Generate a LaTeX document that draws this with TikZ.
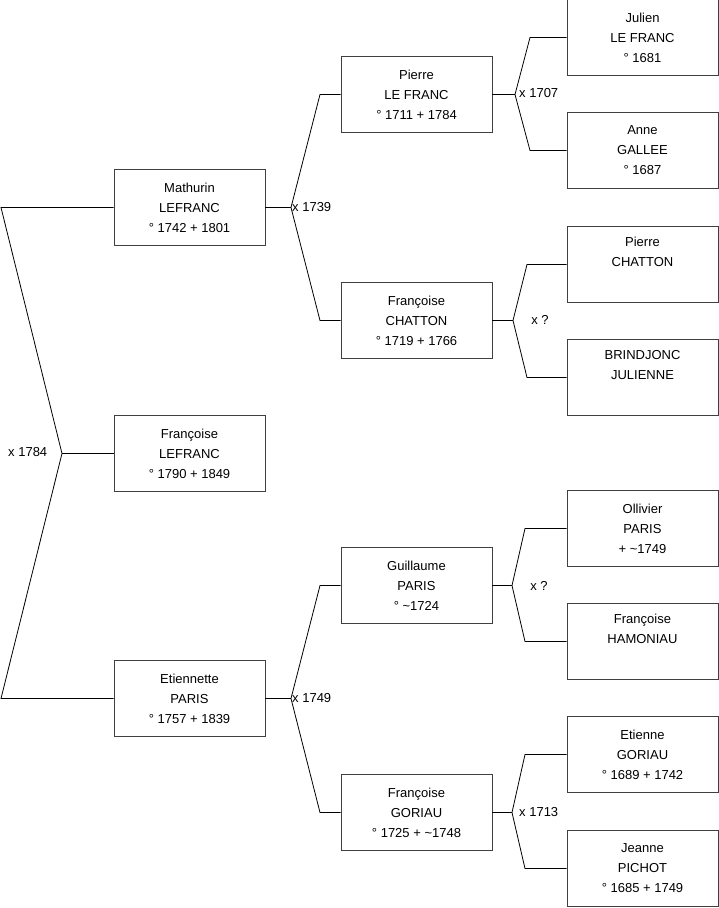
\documentclass[tikz,border=0pt]{standalone}
\usepackage{fontspec}
\setmainfont{Liberation Sans}
\begin{document}
\begin{tikzpicture}[x=1pt,y=-1pt,
  person/.style={draw=black!75,line width=0.9pt,minimum width=151pt,minimum height=76pt,
    inner sep=0pt,align=center,font=\fontsize{13}{20}\selectfont},
  lbl/.style={inner sep=0pt,font=\fontsize{13}{15}\selectfont},
  conn/.style={draw=black,line width=0.8pt}]
\fill[white] (0,0) rectangle (719,908);
\useasboundingbox (0,0) rectangle (719,908);
% generation 1
\node[person] (m) at (189.5,207.5) {Mathurin\\LEFRANC\\° 1742 + 1801};
\node[person] (f) at (189.5,453.5) {Françoise\\LEFRANC\\° 1790 + 1849};
\node[person] (e) at (189.5,698.5) {Etiennette\\PARIS\\° 1757 + 1839};
% generation 2
\node[person] (p) at (416.5,94.5) {Pierre\\LE FRANC\\° 1711 + 1784};
\node[person] (fc) at (416.5,320.5) {Françoise\\CHATTON\\° 1719 + 1766};
\node[person] (g) at (416.5,585.5) {Guillaume\\PARIS\\° \textasciitilde1724};
\node[person] (fg) at (416.5,812.5) {Françoise\\GORIAU\\° 1725 + \textasciitilde1748};
% generation 3
\node[person] (j) at (642.5,37.5) {Julien\\LE FRANC\\° 1681};
\node[person] (a) at (642.5,150.5) {Anne\\GALLEE\\° 1687};
\node[person] (pc) at (642.5,264.5) {Pierre\\CHATTON\\\strut};
\node[person] (b) at (642.5,377.5) {BRINDJONC\\JULIENNE\\\strut};
\node[person] (o) at (642.5,528.5) {Ollivier\\PARIS\\+ \textasciitilde1749};
\node[person] (h) at (642.5,641.5) {Françoise\\HAMONIAU\\\strut};
\node[person] (et) at (642.5,754.5) {Etienne\\GORIAU\\° 1689 + 1742};
\node[person] (je) at (642.5,868.5) {Jeanne\\PICHOT\\° 1685 + 1749};
% junction coordinates
\coordinate (v1) at (62,453.5);
\coordinate (t1) at (1,207.5);
\coordinate (b1) at (1,698.5);
\coordinate (v2) at (291,207.5);
\coordinate (t2) at (320,94.5);
\coordinate (b2) at (320,320.5);
\coordinate (v3) at (291,698.5);
\coordinate (t3) at (320,585.5);
\coordinate (b3) at (320,812.5);
\coordinate (v4) at (515,94.5);
\coordinate (t4) at (530,37.5);
\coordinate (b4) at (530,150.5);
\coordinate (v5) at (513,320.5);
\coordinate (t5) at (527,264.5);
\coordinate (b5) at (527,377.5);
\coordinate (v6) at (512,585.5);
\coordinate (t6) at (525,528.5);
\coordinate (b6) at (525,641.5);
\coordinate (v7) at (512,812.5);
\coordinate (t7) at (525,754.5);
\coordinate (b7) at (525,868.5);
% connectors
\draw[conn] (m.west) -- (t1) -- (v1) -- (b1) -- (e.west);
\draw[conn] (v1) -- (f.west);
\draw[conn] (m.east) -- (v2);
\draw[conn] (p.west) -- (t2) -- (v2) -- (b2) -- (fc.west);
\draw[conn] (e.east) -- (v3);
\draw[conn] (g.west) -- (t3) -- (v3) -- (b3) -- (fg.west);
\draw[conn] (p.east) -- (v4);
\draw[conn] (j.west) -- (t4) -- (v4) -- (b4) -- (a.west);
\draw[conn] (fc.east) -- (v5);
\draw[conn] (pc.west) -- (t5) -- (v5) -- (b5) -- (b.west);
\draw[conn] (g.east) -- (v6);
\draw[conn] (o.west) -- (t6) -- (v6) -- (b6) -- (h.west);
\draw[conn] (fg.east) -- (v7);
\draw[conn] (et.west) -- (t7) -- (v7) -- (b7) -- (je.west);
% marriage labels
\node[lbl,anchor=west] (l1) at (8,452) {x 1784};
\node[lbl,anchor=west] (l2) at (292,207.5) {x 1739};
\node[lbl,anchor=west] (l3) at (292,698.5) {x 1749};
\node[lbl,anchor=west] (l4) at (519,93) {x 1707};
\node[lbl] (l5) at (540,320) {x ?};
\node[lbl] (l6) at (539,586) {x ?};
\node[lbl,anchor=west] (l7) at (519,812) {x 1713};
\end{tikzpicture}
\end{document}
